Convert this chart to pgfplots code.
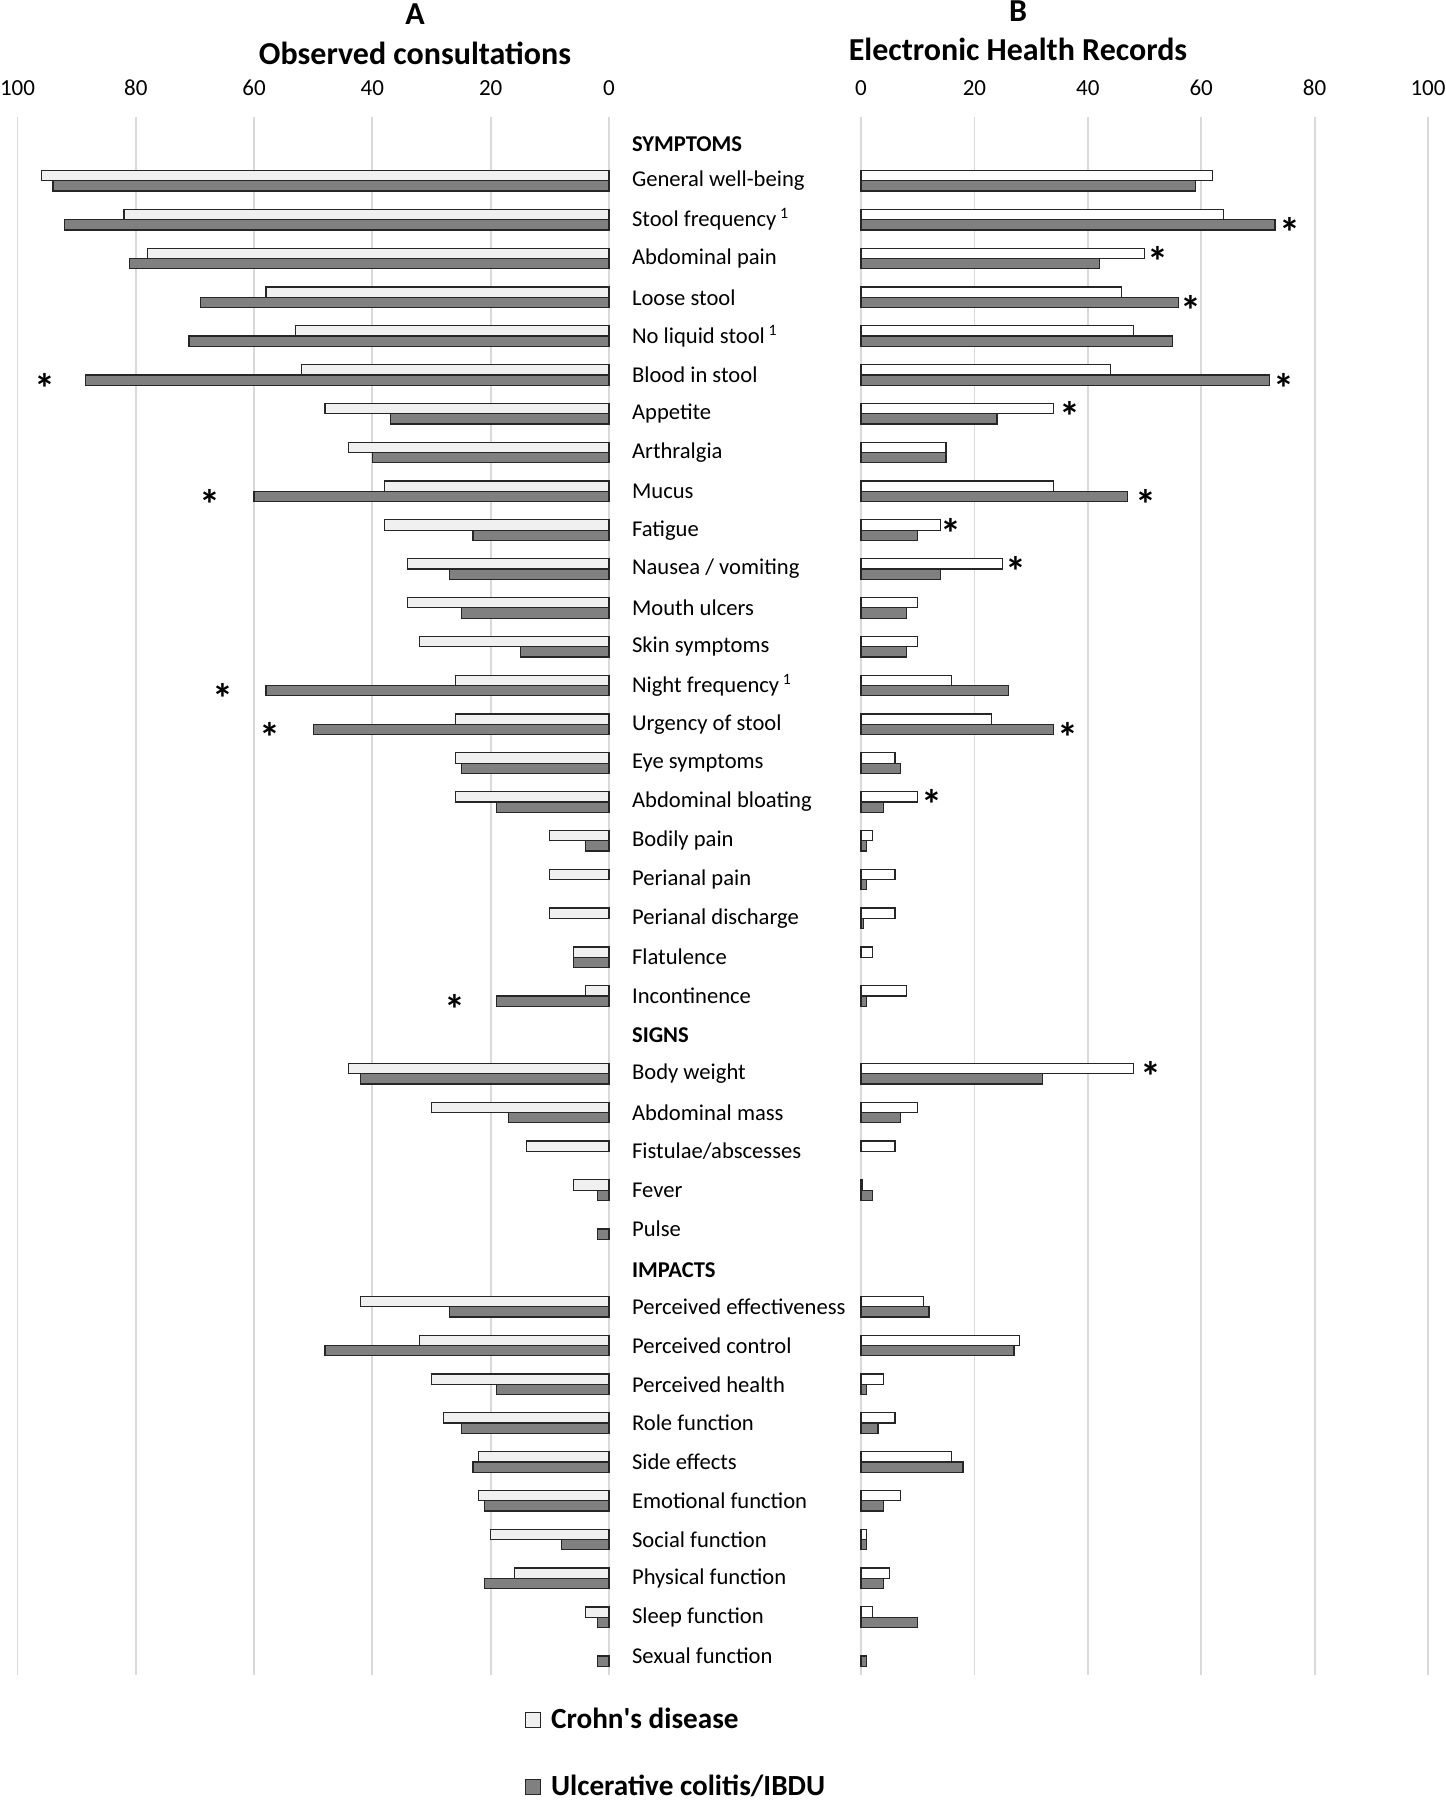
\documentclass[border=0pt]{standalone}
\usepackage{fontspec}
\setmainfont{Carlito}
\usepackage{pgfplots}
\pgfplotsset{compat=1.18}
\usepackage{pgfplotstable}

\definecolor{cdleft}{HTML}{F0F0F0}
\definecolor{ucfill}{HTML}{808080}
\definecolor{barline}{HTML}{262626}
\definecolor{gridc}{HTML}{D9D9D9}

% Observed consultations (A)
\pgfplotstableread{
row v
1 96
2 82
3 78
4 58
5 53
6 52
7 48
8 44
9 38
10 38
11 34
12 34
13 32
14 26
15 26
16 26
17 26
18 10
19 10
20 10
21 6
22 4
24 44
25 30
26 14
27 6
30 42
31 32
32 30
33 28
34 22
35 22
36 20
37 16
38 4
}\leftcd
\pgfplotstableread{
row v
1 94
2 92
3 81
4 69
5 71
6 88.5
7 37
8 40
9 60
10 23
11 27
12 25
13 15
14 58
15 50
16 25
17 19
18 4
21 6
22 19
24 42
25 17
27 2
28 2
30 27
31 48
32 19
33 25
34 23
35 21
36 8
37 21
38 2
39 2
}\leftuc
\pgfplotstableread{
y v
6.133 95.3
9.133 67.5
14.133 65.3
15.133 57.4
22.133 26
}\leftstar

% Electronic Health Records (B)
\pgfplotstableread{
row v
1 62
2 64
3 50
4 46
5 48
6 44
7 34
8 15
9 34
10 14
11 25
12 10
13 10
14 16
15 23
16 6
17 10
18 2
19 6
20 6
21 2
22 8
24 48
25 10
26 6
27 0.2
30 11
31 28
32 4
33 6
34 16
35 7
36 1
37 5
38 2
}\rightcd
\pgfplotstableread{
row v
1 59
2 73
3 42
4 56
5 55
6 72
7 24
8 15
9 47
10 10
11 14
12 8
13 8
14 26
15 34
16 7
17 4
18 1
19 1
20 0.4
22 1
24 32
25 7
27 2
30 12
31 27
32 1
33 3
34 18
35 4
36 1
37 4
38 10
39 1
}\rightuc
\pgfplotstableread{
y v
2.133 75.6
2.867 52.4
4.133 58.2
6.133 74.6
6.867 36.8
9.133 50.2
9.867 15.9
10.867 27.3
15.133 36.5
16.867 12.6
23.867 51.2
}\rightstar

\pgfplotsset{
  panel/.style={
    scale only axis,
    height=779.35pt,
    ymin=-0.65, ymax=39.5,
    y dir=reverse,
    xmin=0, xmax=100,
    xtick={0,20,40,60,80,100},
    xmajorgrids,
    major grid style={gridc, line width=0.9pt},
    axis line style={draw=none},
    tick style={draw=none},
    xticklabel pos=upper,
    xticklabel style={font=\fontsize{11.5}{13}\selectfont, yshift=7pt},
    /pgf/number format/assume math mode=true,
    clip=false,
  },
  barsty/.style={xbar, bar width=5.15pt, bar shift=0pt, draw=barline, line width=0.6pt, forget plot},
  starsty/.style={draw=none, forget plot, nodes near coords={\textbf{*}},
    nodes near coords align={center},
    every node near coord/.append style={font=\fontsize{21}{21}\selectfont, anchor=center, yshift=-4pt}},
}

\begin{document}
\begin{tikzpicture}
\useasboundingbox (0pt,0pt) rectangle (723pt,-900pt);

\node[font=\bfseries\fontsize{16}{18}\selectfont] at (207.5pt,-7pt) {A};
\node[font=\bfseries\fontsize{16}{18}\selectfont] at (207.5pt,-26.5pt) {Observed consultations};
\node[font=\bfseries\fontsize{16}{18}\selectfont] at (509pt,-5.75pt) {B};
\node[font=\bfseries\fontsize{16}{18}\selectfont] at (509pt,-24.5pt) {Electronic Health Records};

\begin{axis}[panel,
  at={(8.75pt,-58.35pt)}, anchor=north west,
  width=295.75pt,
  x dir=reverse,
  ytick=\empty,
  legend style={at={(axis description cs:0.847,-0.0156)}, anchor=north west,
    draw=none, fill=none, row sep=17.8pt,
    /tikz/every odd column/.append style={column sep=3pt},
    font=\bfseries\fontsize{14.6}{16}\selectfont},
  legend cell align=left,
]
\addlegendimage{legend image code/.code={\draw[fill=cdleft, draw=barline, line width=0.6pt] (0pt,-3.75pt) rectangle (7.5pt,3.75pt);}}
\addlegendentry{Crohn\textquotesingle s disease}
\addlegendimage{legend image code/.code={\draw[fill=ucfill, draw=barline, line width=0.6pt] (0pt,-3.75pt) rectangle (7.5pt,3.75pt);}}
\addlegendentry{Ulcerative colitis/IBDU}
\addplot[barsty, fill=cdleft] table[x=v, y expr=\thisrow{row}-0.133] {\leftcd};
\addplot[barsty, fill=ucfill] table[x=v, y expr=\thisrow{row}+0.133] {\leftuc};
\addplot[starsty] table[x=v, y=y] {\leftstar};
\end{axis}

\begin{axis}[panel,
  at={(430.5pt,-58.35pt)}, anchor=north west,
  width=283.5pt,
  ytick={0,1,...,39},
  yticklabel style={anchor=west, xshift=-118pt, font=\fontsize{11.3}{13}\selectfont},
  yticklabels={
    \raisebox{-10pt}{\bfseries SYMPTOMS},
    General well-being,
    Stool frequency\,\textsuperscript{1},
    Abdominal pain,
    Loose stool,
    No liquid stool\,\textsuperscript{1},
    Blood in stool,
    Appetite,
    Arthralgia,
    Mucus,
    Fatigue,
    Nausea / vomiting,
    Mouth ulcers,
    Skin symptoms,
    Night frequency\,\textsuperscript{1},
    Urgency of stool,
    Eye symptoms,
    Abdominal bloating,
    Bodily pain,
    Perianal pain,
    Perianal discharge,
    Flatulence,
    Incontinence,
    \raisebox{-8pt}{\bfseries SIGNS},
    Body weight,
    Abdominal mass,
    Fistulae/abscesses,
    Fever,
    Pulse,
    \raisebox{-10pt}{\bfseries IMPACTS},
    Perceived effectiveness,
    Perceived control,
    Perceived health,
    Role function,
    Side effects,
    Emotional function,
    Social function,
    Physical function,
    Sleep function,
    Sexual function},
]
\addplot[barsty, fill=white] table[x=v, y expr=\thisrow{row}-0.133] {\rightcd};
\addplot[barsty, fill=ucfill] table[x=v, y expr=\thisrow{row}+0.133] {\rightuc};
\addplot[starsty] table[x=v, y=y] {\rightstar};
\end{axis}
\end{tikzpicture}
\end{document}
